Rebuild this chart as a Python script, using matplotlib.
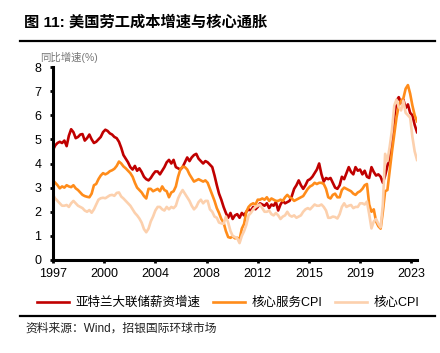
import numpy as np
import pandas as pd
import matplotlib
matplotlib.use('Agg')
import matplotlib.pyplot as plt
from matplotlib.lines import Line2D

plt.rcParams['font.family'] = ['Liberation Sans', 'Noto Sans CJK SC', 'DejaVu Sans']

# === DATA (bi-monthly, Jan 1997 - Sep 2023) ===
dates = pd.date_range('1997-01-01', '2023-09-01', freq='2MS')

wage_growth = [
    4.56, 4.75, 4.85, 4.9, 4.85, 4.95, 4.72, 5.15, 5.42, 5.3,
    5.05, 5.1, 5.2, 5.22, 4.95, 5.05, 5.2, 5.0, 4.85, 4.9,
    5.0, 5.1, 5.3, 5.4, 5.35, 5.25, 5.2, 5.1, 5.05, 4.9,
    4.65, 4.35, 4.2, 4.05, 3.85, 3.75, 3.9, 3.7, 3.8, 3.65,
    3.45,
    3.35, 3.3, 3.4, 3.55, 3.67, 3.67, 3.55, 3.7, 3.85, 4.05,
    4.15, 4.0, 4.15, 3.85, 3.8, 3.75, 3.85, 4.05, 4.25, 4.1,
    4.25, 4.35, 4.4, 4.2, 4.1, 4.0, 4.1, 4.05, 3.95, 3.85,
    3.5, 3.1, 2.75, 2.5, 2.2, 1.95, 1.75, 1.95, 1.7, 1.85,
    1.9, 1.75,
    1.95, 1.85, 2.0, 2.1, 2.05, 2.2, 2.1, 2.2, 2.35, 2.3,
    2.25, 2.35, 2.15, 2.3, 2.25, 2.4, 2.05, 2.3, 2.45, 2.35,
    2.4, 2.45, 2.65, 2.95, 3.1, 3.3, 3.1, 2.95, 3.1, 3.3,
    3.35, 3.45, 3.6, 3.75, 4.0, 3.55, 3.25, 3.4, 3.35, 3.4,
    3.2,
    3.0, 2.95, 3.1, 3.45, 3.35, 3.6, 3.85, 3.65, 3.55, 3.85,
    3.7, 3.75, 3.55, 3.7, 3.45, 3.4, 3.85, 3.65, 3.5, 3.55,
    3.45, 3.2, 3.5, 3.9, 4.3, 5.0, 5.9, 6.6, 6.75, 6.5,
    6.65, 6.3, 6.45, 6.1, 6.0, 5.6, 5.3,
]

core_services_cpi = [
    3.3, 3.2, 3.1, 2.97, 3.05, 3.0, 3.1, 3.05, 3.02, 3.1,
    2.97, 2.9, 2.8, 2.7, 2.65, 2.62, 2.6, 2.75, 3.1, 3.15,
    3.35, 3.5, 3.6, 3.55, 3.6, 3.68, 3.72, 3.78, 3.9, 4.08,
    4.0, 3.88, 3.8, 3.7, 3.6, 3.45, 3.2, 3.0, 2.9, 2.8,
    2.65,
    2.55, 2.95, 2.95, 2.85, 2.9, 2.95, 2.85, 3.05, 2.9, 2.85,
    2.6, 2.8, 2.85, 3.05, 3.45, 3.75, 3.87, 3.85, 3.75, 3.55,
    3.4, 3.25, 3.3, 3.35, 3.3, 3.25, 3.3, 3.2, 2.95, 2.7,
    2.45, 2.15, 1.95, 1.7, 1.55, 1.2, 0.95, 0.92, 0.98, 0.9,
    0.92, 0.85,
    1.3, 1.5, 2.0, 2.2, 2.3, 2.35, 2.3, 2.5, 2.5, 2.55,
    2.5, 2.6, 2.45, 2.55, 2.5, 2.45, 2.45, 2.5, 2.45, 2.6,
    2.7, 2.6, 2.55, 2.45, 2.5, 2.55, 2.6, 2.65, 2.8, 2.95,
    3.05, 3.1, 3.2, 3.15, 3.2, 3.2, 3.15, 2.95, 2.6, 2.55,
    2.7,
    2.75, 2.6, 2.6, 2.9, 3.0, 2.95, 2.9, 2.85, 2.75, 2.7,
    2.8, 2.85, 2.95, 3.1, 3.15, 2.3, 2.0, 2.1, 1.6, 1.4,
    1.3, 2.0, 2.85, 2.9, 3.7, 4.5, 5.2, 5.9, 6.4, 6.6,
    6.7, 7.1, 7.25, 6.9, 6.4, 6.0, 5.75,
]

core_cpi = [
    2.7, 2.55, 2.45, 2.35, 2.25, 2.25, 2.28, 2.2, 2.35, 2.45,
    2.35, 2.25, 2.2, 2.15, 2.05, 2.0, 2.07, 1.96, 2.1, 2.3,
    2.5, 2.56, 2.58, 2.56, 2.62, 2.68, 2.7, 2.66, 2.78, 2.8,
    2.63, 2.55, 2.45, 2.35, 2.25, 2.1, 1.95, 1.85, 1.72, 1.55,
    1.28,
    1.15, 1.3, 1.6, 1.8, 2.05, 2.2, 2.2, 2.1, 2.05, 2.2,
    2.1, 2.2, 2.15, 2.25, 2.55, 2.75, 2.9, 2.75, 2.6, 2.45,
    2.25, 2.1, 2.2, 2.4, 2.5, 2.35, 2.45, 2.45, 2.1, 2.0,
    1.8, 1.75, 1.55, 1.52, 1.5, 1.8, 1.55, 1.2, 1.0, 0.95,
    0.9, 0.7,
    1.0, 1.2, 1.45, 1.85, 1.95, 2.1, 2.2, 2.25, 2.3, 2.15,
    2.0, 2.0, 2.05, 1.9, 1.85, 1.95, 1.85, 1.7, 1.8, 1.85,
    2.0, 1.85, 1.8, 1.85, 1.75, 1.8, 1.85, 2.0, 2.1, 2.15,
    2.1, 2.2, 2.3, 2.25, 2.25, 2.3, 2.2, 2.05, 1.75, 1.75,
    1.8,
    1.78, 1.72, 1.9, 2.2, 2.35, 2.2, 2.25, 2.28, 2.15, 2.2,
    2.2, 2.35, 2.35, 2.3, 2.42, 1.9, 1.31, 1.6, 1.7, 1.5,
    1.35, 2.3, 4.4, 4.1, 4.7, 5.4, 6.4, 6.65, 6.35, 6.2,
    6.6, 6.1, 6.0, 5.9, 5.1, 4.5, 4.15,
]

series_names = ['亚特兰大联储薪资增速', '核心服务CPI', '核心CPI']
colors = ['#C00000', '#FF8C1A', '#FCD0AD']

tick_dates = pd.date_range('1997-01-01', periods=8, freq='45MS')
tick_labels = [str(d.year) for d in tick_dates]

# === FIGURE ===
fig = plt.figure(figsize=(4.4, 3.53), dpi=100)
ax = fig.add_axes([53 / 440, 1 - 260 / 353, 364 / 440, 193 / 353])

for vals, name, c in zip([wage_growth, core_services_cpi, core_cpi], series_names, colors):
    ax.plot(dates, vals, color=c, lw=1.9, label=name, solid_joinstyle='round')

ax.set_ylim(0, 8)
ax.set_yticks(range(0, 9))
ax.set_xlim(dates[0], dates[-1])
ax.set_xticks(tick_dates)
ax.set_xticklabels(tick_labels)

for s in ['top', 'right']:
    ax.spines[s].set_visible(False)
for s in ['left', 'bottom']:
    ax.spines[s].set_linewidth(2.2)
    ax.spines[s].set_color('black')
ax.spines['left'].set_zorder(5)
ax.tick_params(axis='both', direction='out', length=2.5, width=2, labelsize=9, pad=3)
ax.tick_params(axis='y', pad=6)

# title and decoration
fig.text(24 / 440, 1 - 22 / 353, '图 11: 美国劳工成本增速与核心通胀',
         fontsize=11, fontweight='bold', va='center', ha='left')
fig.add_artist(Line2D([20 / 440, 435 / 440], [1 - 41 / 353] * 2, lw=1.6, color='black'))
fig.text(40 / 440, 1 - 57 / 353, '同比增速(%)', fontsize=7.5, color='#777777',
         va='center', ha='left')

# legend
fig.legend(loc='center', bbox_to_anchor=(228 / 440, 1 - 303 / 353), ncol=3,
           frameon=False, fontsize=9, handlelength=2.6, handletextpad=0.5,
           columnspacing=1.0, borderaxespad=0, borderpad=0)

fig.add_artist(Line2D([20 / 440, 435 / 440], [1 - 316 / 353] * 2, lw=1.6, color='black'))
fig.text(25 / 440, 1 - 329 / 353, '资料来源：Wind，招银国际环球市场', fontsize=8.5,
         va='center', ha='left', color='#222222')

fig.savefig('out.png', dpi=100)
